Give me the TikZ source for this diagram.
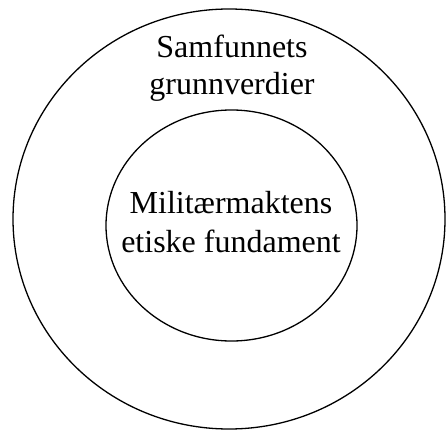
\documentclass[tikz,border=0pt]{standalone}
\usepackage{fontspec}
\setmainfont{Liberation Serif}
\usetikzlibrary{shapes.geometric}
\begin{document}
\begin{tikzpicture}[x=1pt,y=1pt,
  ring/.style={draw,ellipse,line width=1.3pt,inner sep=0pt},
  lbl/.style={anchor=base,inner sep=0pt,font=\fontsize{32}{37}\selectfont}]
\useasboundingbox (0,0) rectangle (446,-430);
\node[ring,minimum width=432pt,minimum height=420pt] (outer) at (229,-219) {};
\node[ring,minimum width=251pt,minimum height=231pt] (inner) at (231.5,-225.5) {};
\node[lbl] (s1) at (232,-58) {Samfunnets};
\node[lbl] (s2) at (232,-95) {grunnverdier};
\node[lbl] (m1) at (231,-213) {Militærmaktens};
\node[lbl] (m2) at (231,-252) {etiske fundament};
\end{tikzpicture}
\end{document}
